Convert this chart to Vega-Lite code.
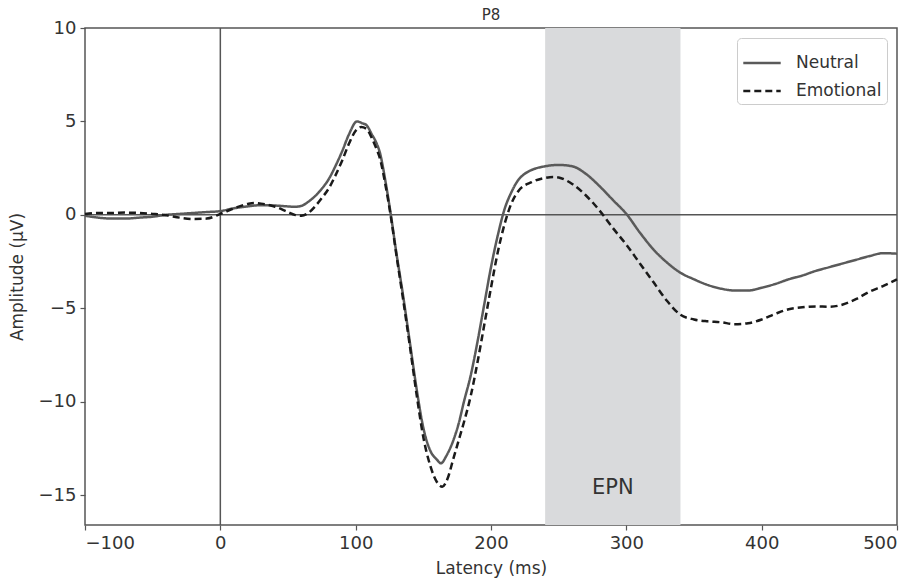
{
  "$schema": "https://vega.github.io/schema/vega-lite/v6.json",
  "width": 812,
  "height": 497,
  "autosize": "none",
  "padding": {"left": 85, "top": 28, "right": 25, "bottom": 55},
  "background": "white",
  "config": {
    "font": "DejaVu Sans",
    "view": {"stroke": "#555555", "strokeWidth": 1.5},
    "axis": {"grid": false, "domain": false, "tickColor": "#555555", "tickSize": 5, "tickWidth": 1.2, "labelFontSize": 18, "labelColor": "#333333", "titleFontSize": 17, "titleFontWeight": "normal", "titleColor": "#333333", "labelPadding": 4},
    "legend": {"orient": "top-right", "offset": 10, "strokeColor": "#cccccc", "cornerRadius": 4, "padding": 5, "fillColor": "white", "labelFontSize": 17, "labelColor": "#333333", "symbolType": "stroke", "symbolSize": 1400, "symbolStrokeWidth": 2.5, "rowPadding": -8, "labelOffset": 14}
  },
  "title": {"text": "P8", "fontSize": 15, "fontWeight": "normal", "color": "#333333", "offset": 6, "dy": 10},
  "datasets": {
    "erp": [
      {"ms": -100, "amp": -0.05, "condition": "Neutral"},
      {"ms": -90, "amp": -0.15, "condition": "Neutral"},
      {"ms": -80, "amp": -0.2, "condition": "Neutral"},
      {"ms": -70, "amp": -0.2, "condition": "Neutral"},
      {"ms": -60, "amp": -0.15, "condition": "Neutral"},
      {"ms": -50, "amp": -0.1, "condition": "Neutral"},
      {"ms": -40, "amp": 0.0, "condition": "Neutral"},
      {"ms": -30, "amp": 0.05, "condition": "Neutral"},
      {"ms": -20, "amp": 0.1, "condition": "Neutral"},
      {"ms": -10, "amp": 0.15, "condition": "Neutral"},
      {"ms": 0, "amp": 0.2, "condition": "Neutral"},
      {"ms": 10, "amp": 0.35, "condition": "Neutral"},
      {"ms": 20, "amp": 0.45, "condition": "Neutral"},
      {"ms": 30, "amp": 0.52, "condition": "Neutral"},
      {"ms": 40, "amp": 0.5, "condition": "Neutral"},
      {"ms": 50, "amp": 0.45, "condition": "Neutral"},
      {"ms": 55, "amp": 0.43, "condition": "Neutral"},
      {"ms": 60, "amp": 0.48, "condition": "Neutral"},
      {"ms": 65, "amp": 0.7, "condition": "Neutral"},
      {"ms": 70, "amp": 1.0, "condition": "Neutral"},
      {"ms": 75, "amp": 1.4, "condition": "Neutral"},
      {"ms": 80, "amp": 1.9, "condition": "Neutral"},
      {"ms": 85, "amp": 2.6, "condition": "Neutral"},
      {"ms": 90, "amp": 3.4, "condition": "Neutral"},
      {"ms": 95, "amp": 4.3, "condition": "Neutral"},
      {"ms": 101, "amp": 5.0, "condition": "Neutral"},
      {"ms": 105, "amp": 4.9, "condition": "Neutral"},
      {"ms": 108, "amp": 4.8, "condition": "Neutral"},
      {"ms": 112, "amp": 4.3, "condition": "Neutral"},
      {"ms": 115, "amp": 3.9, "condition": "Neutral"},
      {"ms": 118, "amp": 3.3, "condition": "Neutral"},
      {"ms": 122, "amp": 1.8, "condition": "Neutral"},
      {"ms": 126, "amp": 0.0, "condition": "Neutral"},
      {"ms": 130, "amp": -2.0, "condition": "Neutral"},
      {"ms": 135, "amp": -4.3, "condition": "Neutral"},
      {"ms": 140, "amp": -6.8, "condition": "Neutral"},
      {"ms": 145, "amp": -9.3, "condition": "Neutral"},
      {"ms": 150, "amp": -11.4, "condition": "Neutral"},
      {"ms": 155, "amp": -12.6, "condition": "Neutral"},
      {"ms": 160, "amp": -13.1, "condition": "Neutral"},
      {"ms": 163, "amp": -13.3, "condition": "Neutral"},
      {"ms": 167, "amp": -12.9, "condition": "Neutral"},
      {"ms": 172, "amp": -12.1, "condition": "Neutral"},
      {"ms": 176, "amp": -11.2, "condition": "Neutral"},
      {"ms": 180, "amp": -10.0, "condition": "Neutral"},
      {"ms": 185, "amp": -8.6, "condition": "Neutral"},
      {"ms": 190, "amp": -6.8, "condition": "Neutral"},
      {"ms": 195, "amp": -4.8, "condition": "Neutral"},
      {"ms": 200, "amp": -2.8, "condition": "Neutral"},
      {"ms": 205, "amp": -1.1, "condition": "Neutral"},
      {"ms": 210, "amp": 0.3, "condition": "Neutral"},
      {"ms": 215, "amp": 1.2, "condition": "Neutral"},
      {"ms": 220, "amp": 1.85, "condition": "Neutral"},
      {"ms": 225, "amp": 2.2, "condition": "Neutral"},
      {"ms": 230, "amp": 2.4, "condition": "Neutral"},
      {"ms": 240, "amp": 2.6, "condition": "Neutral"},
      {"ms": 250, "amp": 2.67, "condition": "Neutral"},
      {"ms": 260, "amp": 2.6, "condition": "Neutral"},
      {"ms": 270, "amp": 2.2, "condition": "Neutral"},
      {"ms": 280, "amp": 1.55, "condition": "Neutral"},
      {"ms": 290, "amp": 0.8, "condition": "Neutral"},
      {"ms": 300, "amp": 0.05, "condition": "Neutral"},
      {"ms": 310, "amp": -0.95, "condition": "Neutral"},
      {"ms": 320, "amp": -1.85, "condition": "Neutral"},
      {"ms": 330, "amp": -2.55, "condition": "Neutral"},
      {"ms": 340, "amp": -3.1, "condition": "Neutral"},
      {"ms": 350, "amp": -3.45, "condition": "Neutral"},
      {"ms": 360, "amp": -3.75, "condition": "Neutral"},
      {"ms": 370, "amp": -3.95, "condition": "Neutral"},
      {"ms": 380, "amp": -4.05, "condition": "Neutral"},
      {"ms": 390, "amp": -4.05, "condition": "Neutral"},
      {"ms": 400, "amp": -3.9, "condition": "Neutral"},
      {"ms": 410, "amp": -3.7, "condition": "Neutral"},
      {"ms": 420, "amp": -3.45, "condition": "Neutral"},
      {"ms": 430, "amp": -3.25, "condition": "Neutral"},
      {"ms": 440, "amp": -3.0, "condition": "Neutral"},
      {"ms": 450, "amp": -2.8, "condition": "Neutral"},
      {"ms": 460, "amp": -2.6, "condition": "Neutral"},
      {"ms": 470, "amp": -2.4, "condition": "Neutral"},
      {"ms": 480, "amp": -2.2, "condition": "Neutral"},
      {"ms": 490, "amp": -2.05, "condition": "Neutral"},
      {"ms": 500, "amp": -2.08, "condition": "Neutral"},
      {"ms": -100, "amp": 0.05, "condition": "Emotional"},
      {"ms": -90, "amp": 0.1, "condition": "Emotional"},
      {"ms": -80, "amp": 0.1, "condition": "Emotional"},
      {"ms": -70, "amp": 0.12, "condition": "Emotional"},
      {"ms": -60, "amp": 0.1, "condition": "Emotional"},
      {"ms": -50, "amp": 0.05, "condition": "Emotional"},
      {"ms": -40, "amp": -0.02, "condition": "Emotional"},
      {"ms": -30, "amp": -0.15, "condition": "Emotional"},
      {"ms": -20, "amp": -0.22, "condition": "Emotional"},
      {"ms": -10, "amp": -0.2, "condition": "Emotional"},
      {"ms": 0, "amp": 0.05, "condition": "Emotional"},
      {"ms": 10, "amp": 0.35, "condition": "Emotional"},
      {"ms": 20, "amp": 0.58, "condition": "Emotional"},
      {"ms": 25, "amp": 0.64, "condition": "Emotional"},
      {"ms": 30, "amp": 0.6, "condition": "Emotional"},
      {"ms": 40, "amp": 0.45, "condition": "Emotional"},
      {"ms": 50, "amp": 0.15, "condition": "Emotional"},
      {"ms": 55, "amp": 0.0, "condition": "Emotional"},
      {"ms": 60, "amp": -0.05, "condition": "Emotional"},
      {"ms": 65, "amp": 0.1, "condition": "Emotional"},
      {"ms": 70, "amp": 0.45, "condition": "Emotional"},
      {"ms": 75, "amp": 0.9, "condition": "Emotional"},
      {"ms": 80, "amp": 1.4, "condition": "Emotional"},
      {"ms": 85, "amp": 2.1, "condition": "Emotional"},
      {"ms": 90, "amp": 2.9, "condition": "Emotional"},
      {"ms": 95, "amp": 3.8, "condition": "Emotional"},
      {"ms": 100, "amp": 4.5, "condition": "Emotional"},
      {"ms": 104, "amp": 4.7, "condition": "Emotional"},
      {"ms": 108, "amp": 4.6, "condition": "Emotional"},
      {"ms": 112, "amp": 4.1, "condition": "Emotional"},
      {"ms": 115, "amp": 3.6, "condition": "Emotional"},
      {"ms": 118, "amp": 3.0, "condition": "Emotional"},
      {"ms": 122, "amp": 1.6, "condition": "Emotional"},
      {"ms": 126, "amp": -0.1, "condition": "Emotional"},
      {"ms": 130, "amp": -2.1, "condition": "Emotional"},
      {"ms": 135, "amp": -4.5, "condition": "Emotional"},
      {"ms": 140, "amp": -7.0, "condition": "Emotional"},
      {"ms": 145, "amp": -9.6, "condition": "Emotional"},
      {"ms": 150, "amp": -11.9, "condition": "Emotional"},
      {"ms": 155, "amp": -13.4, "condition": "Emotional"},
      {"ms": 160, "amp": -14.3, "condition": "Emotional"},
      {"ms": 164, "amp": -14.55, "condition": "Emotional"},
      {"ms": 168, "amp": -14.1, "condition": "Emotional"},
      {"ms": 172, "amp": -13.1, "condition": "Emotional"},
      {"ms": 176, "amp": -12.1, "condition": "Emotional"},
      {"ms": 180, "amp": -11.1, "condition": "Emotional"},
      {"ms": 185, "amp": -9.7, "condition": "Emotional"},
      {"ms": 190, "amp": -7.9, "condition": "Emotional"},
      {"ms": 195, "amp": -5.9, "condition": "Emotional"},
      {"ms": 200, "amp": -3.9, "condition": "Emotional"},
      {"ms": 205, "amp": -2.0, "condition": "Emotional"},
      {"ms": 210, "amp": -0.5, "condition": "Emotional"},
      {"ms": 215, "amp": 0.6, "condition": "Emotional"},
      {"ms": 220, "amp": 1.25, "condition": "Emotional"},
      {"ms": 230, "amp": 1.75, "condition": "Emotional"},
      {"ms": 240, "amp": 1.98, "condition": "Emotional"},
      {"ms": 246, "amp": 2.03, "condition": "Emotional"},
      {"ms": 250, "amp": 2.0, "condition": "Emotional"},
      {"ms": 260, "amp": 1.65, "condition": "Emotional"},
      {"ms": 270, "amp": 1.05, "condition": "Emotional"},
      {"ms": 280, "amp": 0.25, "condition": "Emotional"},
      {"ms": 290, "amp": -0.7, "condition": "Emotional"},
      {"ms": 300, "amp": -1.6, "condition": "Emotional"},
      {"ms": 310, "amp": -2.6, "condition": "Emotional"},
      {"ms": 320, "amp": -3.6, "condition": "Emotional"},
      {"ms": 330, "amp": -4.6, "condition": "Emotional"},
      {"ms": 340, "amp": -5.35, "condition": "Emotional"},
      {"ms": 350, "amp": -5.6, "condition": "Emotional"},
      {"ms": 360, "amp": -5.7, "condition": "Emotional"},
      {"ms": 370, "amp": -5.75, "condition": "Emotional"},
      {"ms": 380, "amp": -5.85, "condition": "Emotional"},
      {"ms": 390, "amp": -5.8, "condition": "Emotional"},
      {"ms": 400, "amp": -5.6, "condition": "Emotional"},
      {"ms": 410, "amp": -5.3, "condition": "Emotional"},
      {"ms": 420, "amp": -5.05, "condition": "Emotional"},
      {"ms": 430, "amp": -4.95, "condition": "Emotional"},
      {"ms": 440, "amp": -4.9, "condition": "Emotional"},
      {"ms": 450, "amp": -4.92, "condition": "Emotional"},
      {"ms": 460, "amp": -4.8, "condition": "Emotional"},
      {"ms": 470, "amp": -4.5, "condition": "Emotional"},
      {"ms": 480, "amp": -4.1, "condition": "Emotional"},
      {"ms": 490, "amp": -3.8, "condition": "Emotional"},
      {"ms": 500, "amp": -3.45, "condition": "Emotional"}
    ],
    "window": [{"start": 240, "end": 340, "label": "EPN", "mid": 290, "labelAmp": -14.6}],
    "zero": [{"v": 0}]
  },
  "layer": [
    {
      "data": {"name": "window"},
      "mark": {"type": "rect", "color": "#d9dadc"},
      "encoding": {
        "x": {"field": "start", "type": "quantitative", "scale": {"domain": [-100, 500], "nice": false, "zero": false}},
        "x2": {"field": "end"},
        "y": {"datum": 10},
        "y2": {"datum": -16.6}
      }
    },
    {
      "data": {"name": "window"},
      "mark": {"type": "text", "fontSize": 21, "color": "#333333", "baseline": "middle", "align": "center"},
      "encoding": {
        "x": {"field": "mid", "type": "quantitative"},
        "y": {"field": "labelAmp", "type": "quantitative"},
        "text": {"field": "label"}
      }
    },
    {
      "data": {"name": "zero"},
      "mark": {"type": "rule", "color": "#555555", "strokeWidth": 1.5},
      "encoding": {"y": {"field": "v", "type": "quantitative"}}
    },
    {
      "data": {"name": "zero"},
      "mark": {"type": "rule", "color": "#555555", "strokeWidth": 1.5},
      "encoding": {"x": {"field": "v", "type": "quantitative"}}
    },
    {
      "data": {"name": "erp"},
      "mark": {"type": "line", "strokeWidth": 2.5, "interpolate": "monotone"},
      "encoding": {
        "x": {"field": "ms", "type": "quantitative", "title": "Latency (ms)", "axis": {"values": [-100, 0, 100, 200, 300, 400, 500], "titlePadding": 8}},
        "y": {"field": "amp", "type": "quantitative", "title": "Amplitude (μV)", "scale": {"domain": [-16.6, 10], "nice": false, "zero": false}, "axis": {"values": [-15, -10, -5, 0, 5, 10], "titlePadding": 12}},
        "color": {"field": "condition", "type": "nominal", "scale": {"domain": ["Neutral", "Emotional"], "range": ["#5a5a5a", "#1a1a1a"]}, "legend": {"title": null}},
        "strokeDash": {"field": "condition", "type": "nominal", "scale": {"domain": ["Neutral", "Emotional"], "range": [[1, 0], [7, 4]]}, "legend": {"title": null}}
      }
    }
  ]
}
